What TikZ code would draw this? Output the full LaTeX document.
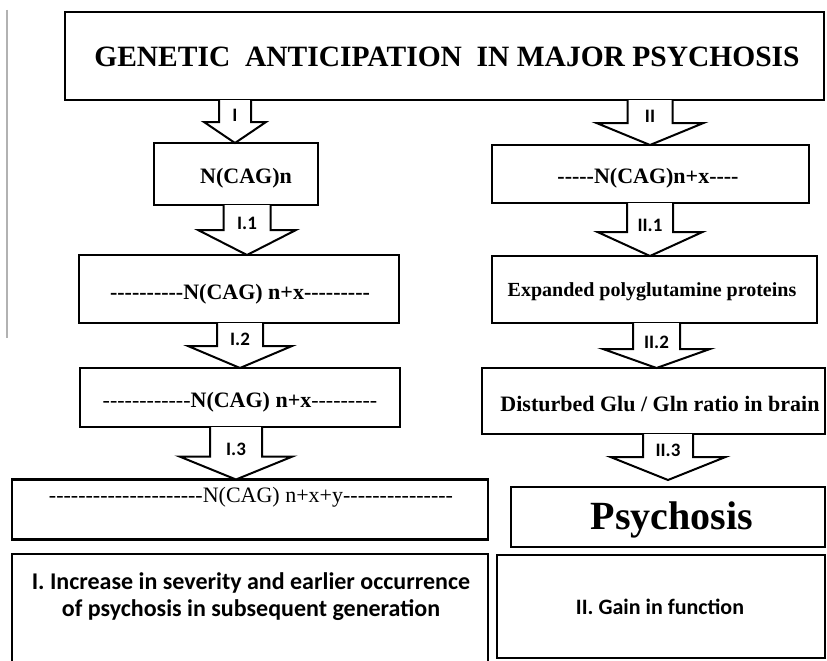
\documentclass[tikz,border=0pt]{standalone}
\usepackage{fontspec}
\usetikzlibrary{calc}
\newfontfamily\tnrfont{Liberation Serif}
\newfontfamily\calfont{Carlito}
\tikzset{
  box/.style={draw, line width=2.3pt, rectangle, inner sep=0pt, outer sep=0pt},
  blockarrow/.style={draw, line width=2pt, fill=white, line join=miter},
  alabel/.style={anchor=base, inner sep=0pt, font=\calfont\bfseries\fontsize{19}{21}\selectfont},
  sb/.style={inner sep=0pt, font=\tnrfont\bfseries\fontsize{#1}{#1}\selectfont},
  sr/.style={inner sep=0pt, font=\tnrfont\fontsize{#1}{#1}\selectfont},
}
\newcommand\barrow[8]{%
  \draw[blockarrow] ($(#1.south -| #3)+(-#4,0)$) -- ($(#2.north -| #3)+(-#4,-#6-#8)$)
    -- ($(#2.north -| #3)+(-#5,-#6-#8)$) -- ($(#2.north -| #3)+(0,-#8)$)
    -- ($(#2.north -| #3)+(#5,-#6-#8)$) -- ($(#2.north -| #3)+(#4,-#6-#8)$)
    -- ($(#1.south -| #3)+(#4,0)$);
  \node[alabel] at ($(#2.north -| #3)+(0,-#6-#8-1)$) {#7};}
\begin{document}
\begin{tikzpicture}[x=1pt,y=-1pt]
\useasboundingbox (0,0) rectangle (827,661);
\fill[white] (0,0) rectangle (827,661);
\clip (0,0) rectangle (827,661);
% stray margin line
\draw[gray!60, line width=2pt] (7,10) -- (7,338);
% boxes
\node[box, minimum width=759pt, minimum height=88pt] (title) at (444.5,56) {};
\node[box, minimum width=164pt, minimum height=62pt] (L1) at (236,174) {};
\node[box, minimum width=320pt, minimum height=68pt] (L2) at (239,289) {};
\node[box, minimum width=320pt, minimum height=59pt] (L3) at (240,397.5) {};
\node[box, minimum width=476pt, minimum height=60pt] (L4) at (250,509.5) {};
\node[box, minimum width=476pt, minimum height=120pt] (LB) at (250,614) {};
\node[box, minimum width=317pt, minimum height=58pt] (R1) at (650.5,174) {};
\node[box, minimum width=325pt, minimum height=67pt] (R2) at (654.5,289.5) {};
\node[box, minimum width=343pt, minimum height=66pt] (R3) at (653.5,401) {};
\node[box, minimum width=314pt, minimum height=60pt] (Psy) at (668,517) {};
\node[box, minimum width=328pt, minimum height=103pt] (RB) at (661,606.5) {};
% texts
\node[sb=29.5] (ttitle) at (447,57) {GENETIC\ \ ANTICIPATION\ \ IN MAJOR PSYCHOSIS};
\node[sb=22] (tL1) at (246,178) {N(CAG)n};
\node[sb=22] (tL2) at (240,294) {----------N(CAG) n+x---------};
\node[sb=22] (tL3) at (240,402) {\mdseries------------\bfseries N(CAG) n+x\mdseries---------};
\node[sr=22] (tL4) at (251,497) {---------------------N(CAG) n+x+y---------------};
\node[inner sep=0pt, align=center, font=\calfont\bfseries\fontsize{24}{27}\selectfont] (tLB) at (251,597)
  {I. Increase in severity and earlier occurrence\\of psychosis in subsequent generation};
\node[sb=22] (tR1) at (648,178) {-----N(CAG)n+x----};
\node[sb=20] (tR2) at (652,292) {Expanded polyglutamine proteins};
\node[sb=22] (tR3) at (660,404) {Disturbed Glu / Gln ratio in brain};
\node[sb=40] (tPsy) at (672,520) {Psychosis};
\node[inner sep=0pt, font=\calfont\bfseries\fontsize{22}{23}\selectfont] (tRB) at (660,607) {II. Gain in function};
% arrow axes
\coordinate (xI) at (235,0);
\coordinate (xI1) at (247,0);
\coordinate (xI2) at (240,0);
\coordinate (xI3) at (236,0);
\coordinate (xII) at (650,0);
\coordinate (xII1) at (650,0);
\coordinate (xII2) at (656.5,0);
\coordinate (xII3) at (668,0);
% block arrows: source, target, axis, shaft half, head half, head length, label, gap
\barrow{title}{L1}{xI}{16}{31}{21}{I}{0}
\barrow{L1}{L2}{xI1}{23.5}{49}{25}{I.1}{0}
\barrow{L2}{L3}{xI2}{23}{52}{22}{I.2}{0}
\barrow{L3}{L4}{xI3}{26}{56.5}{23}{I.3}{0}
\barrow{title}{R1}{xII}{22.5}{53.5}{22}{II}{0}
\barrow{R1}{R2}{xII1}{23}{52.5}{24}{II.1}{0}
\barrow{R2}{R3}{xII2}{23.5}{53.5}{19}{II.2}{0}
\barrow{R3}{Psy}{xII3}{25}{57.5}{23}{II.3}{7}
\end{tikzpicture}
\end{document}
